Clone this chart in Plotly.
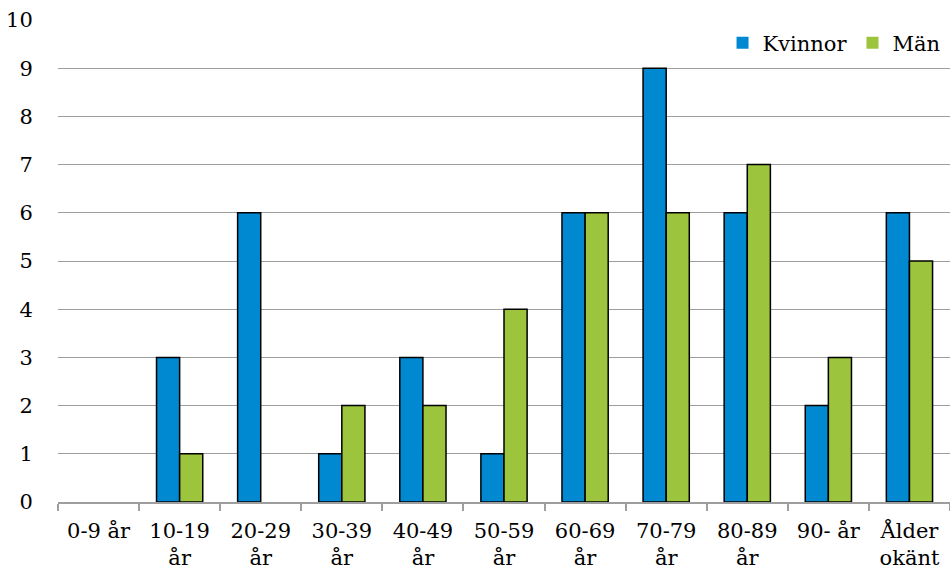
import plotly.graph_objects as go

categories = ["0-9 år", "10-19<br>år", "20-29<br>år", "30-39<br>år", "40-49<br>år",
              "50-59<br>år", "60-69<br>år", "70-79<br>år", "80-89<br>år", "90- år",
              "Ålder<br>okänt"]
kvinnor = [0, 3, 6, 1, 3, 1, 6, 9, 6, 2, 6]
man = [0, 1, 0, 2, 2, 4, 6, 6, 7, 3, 5]
y_ticks = list(range(0, 11))

font_family = "DejaVu Serif"


def outline_widths(values):
    # no outline on empty bars
    return [1.5 if v > 0 else 0 for v in values]


fig = go.Figure()
fig.add_trace(go.Bar(
    x=categories, y=kvinnor, name="Kvinnor",
    marker=dict(color="#0089D1", line=dict(color="#000000", width=outline_widths(kvinnor))),
))
fig.add_trace(go.Bar(
    x=categories, y=man, name="Män",
    marker=dict(color="#9CC43C", line=dict(color="#000000", width=outline_widths(man))),
))

fig.update_layout(
    width=950, height=578,
    margin=dict(l=58, r=0, t=20, b=76),
    paper_bgcolor="white", plot_bgcolor="white",
    font=dict(family=font_family, size=21, color="#000000"),
    barmode="group", bargap=0.43, bargroupgap=0,
    showlegend=True,
    legend=dict(
        orientation="h", x=0.995, xanchor="right", y=0.952, yanchor="middle",
        bgcolor="white", traceorder="normal", itemwidth=30,
    ),
)
fig.update_yaxes(
    range=[0, 10], tickvals=y_ticks, showgrid=True, gridcolor="#9e9e9e", gridwidth=1.2,
    zeroline=False, showline=False, ticks="outside", ticklen=20,
    tickcolor="rgba(0,0,0,0)", fixedrange=True,
)
fig.update_xaxes(
    showline=True, linecolor="#9e9e9e", linewidth=1.5,
    ticks="outside", tickson="boundaries", ticklen=7, tickcolor="#9e9e9e", tickwidth=1.5,
    ticklabelstandoff=9, showgrid=False, fixedrange=True,
)

fig.write_html("out.html")
